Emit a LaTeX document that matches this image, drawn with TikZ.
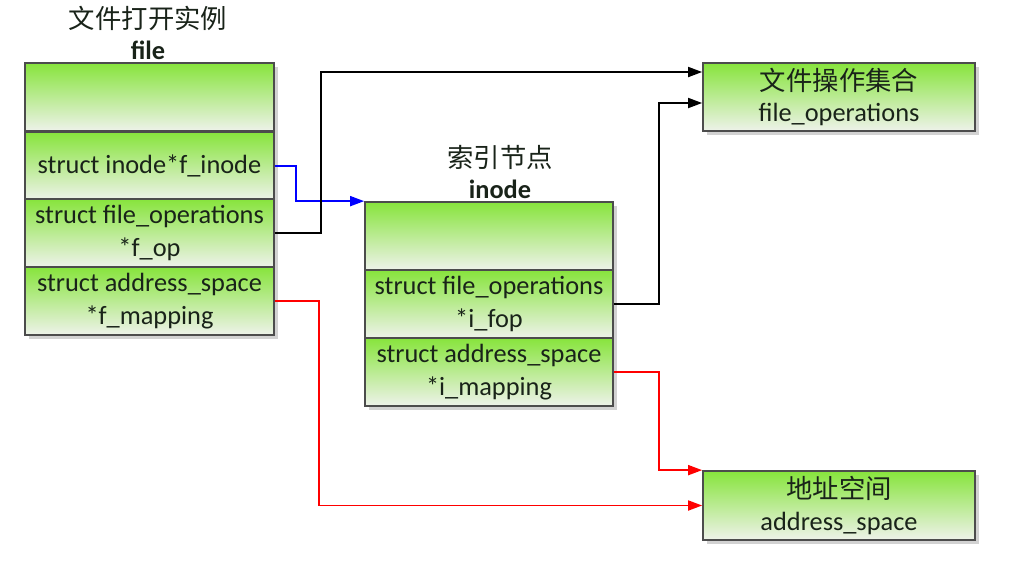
\documentclass[tikz,border=0pt]{standalone}
\usepackage{fontspec}
\setmainfont{Carlito}
\newfontfamily\cjk{Noto Sans CJK SC}
\usetikzlibrary{arrows.meta,shadows}
\definecolor{gtop}{RGB}{135,228,60}
\definecolor{gbot}{RGB}{238,242,234}
\definecolor{txt}{RGB}{25,35,25}
\tikzset{
	field/.style={draw=black!70, line width=1pt, top color=gtop, bottom color=gbot,
		minimum height=1.36cm, inner sep=0pt, align=center, text=txt,
		font=\fontsize{15}{18}\selectfont},
	holder/.style={fill=white, drop shadow={shadow xshift=0.08cm, shadow yshift=-0.08cm, fill=gray!35, opacity=1}},
	title/.style={align=center, anchor=south, inner sep=1pt, text=txt, font=\fontsize{15}{18}\selectfont},
	link/.style={line width=1pt, -{Triangle[length=0.28cm,width=0.2cm]}},
}
\begin{document}
\begin{tikzpicture}[x=0.02cm,y=-0.02cm]
	\useasboundingbox (0,0) rectangle (1019,562);
	% file
	\node[title] (filet) at (148,62) {{\cjk\fontsize{15}{17}\selectfont 文件打开实例}\\[0pt]\textbf{file}};
	\node[holder, minimum width=4.98cm, minimum height=5.44cm] (filebox) at (149.5,199) {};
	\node[field, minimum width=4.98cm] (f1) at (149.5,97) {};
	\node[field, minimum width=4.98cm] (f2) at (149.5,166) {struct inode*f\_inode};
	\node[field, minimum width=4.98cm] (f3) at (149.5,233) {struct file\_operations\\[1pt]*f\_op};
	\node[field, minimum width=4.98cm] (f4) at (149.5,301) {struct address\_space\\[1pt]*f\_mapping};
	% inode
	\node[title] (inodet) at (500,201) {{\cjk\fontsize{15}{17}\selectfont 索引节点}\\[0pt]\textbf{inode}};
	\node[holder, minimum width=4.96cm, minimum height=4.08cm] (inodebox) at (489,304) {};
	\node[field, minimum width=4.96cm] (i1) at (489,236) {};
	\node[field, minimum width=4.96cm] (i2) at (489,304) {struct file\_operations\\[1pt]*i\_fop};
	\node[field, minimum width=4.96cm] (i3) at (489,372) {struct address\_space\\[1pt]*i\_mapping};
	% targets
	\node[field, holder, top color=gtop, bottom color=gbot, minimum width=5.44cm] (fops) at (839,97) {{\cjk\fontsize{15}{17}\selectfont 文件操作集合}\\file\_operations};
	\node[field, holder, top color=gtop, bottom color=gbot, minimum width=5.44cm, minimum height=1.38cm] (aspace) at (839,505.5) {{\cjk\fontsize{15}{17}\selectfont 地址空间}\\address\_space};
	% connectors
	\draw[link, blue] (f2.east) -- ++(21,0) |- (i1.north west);
	\draw[link, black] (f3.east) -- ++(46,0) |- ([yshift=0.5cm]fops.west);
	\draw[link, black] (i2.east) -- ++(45,0) |- ([yshift=-0.12cm]fops.west);
	\draw[link, red] (i3.east) -- ++(45,0) |- (aspace.north west);
	\draw[link, red] (f4.east) -- ++(44,0) |- (aspace.west);
\end{tikzpicture}
\end{document}
